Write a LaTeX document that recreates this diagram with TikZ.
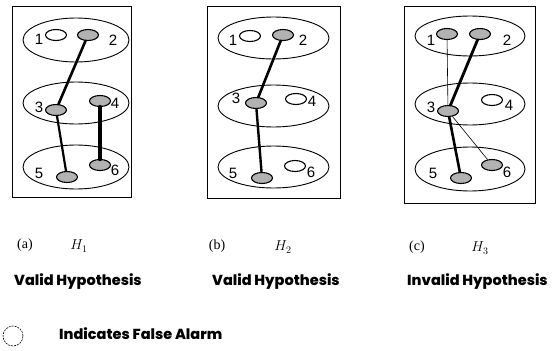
\documentclass[tikz,border=0pt]{standalone}
\usepackage{fontspec}
\setmainfont{Liberation Serif}
\newfontfamily\numfont{Liberation Sans}
\newfontfamily\capfont{Poppins}[BoldFont={Poppins ExtraBold}]
\usetikzlibrary{shapes.geometric}
\tikzset{
  frame/.style={draw,line width=0.8pt},
  zone/.style={draw,line width=0.9pt},
  plot/.style={draw,ellipse,line width=1.1pt,fill=white,minimum width=21pt,minimum height=11pt,inner sep=0pt},
  hit/.style={plot,fill=black!30},
  num/.style={font=\numfont\fontsize{15}{15}\selectfont,inner sep=0pt},
  tag/.style={font=\fontsize{14}{14}\selectfont,inner sep=0pt},
  verdict/.style={font=\capfont\bfseries\fontsize{14.5}{14.5}\selectfont,inner sep=0pt,anchor=west},
  trk/.style={line width=#1,line cap=round}
}
\begin{document}
\begin{tikzpicture}[x=1pt,y=-1pt]
\useasboundingbox (0,0) rectangle (552,351);
% (a) valid hypothesis H1
\draw[frame] (12,6) rectangle (131,197);
\draw[zone] (76,40) ellipse [x radius=53pt,y radius=22pt];
\draw[zone] (76,103) ellipse [x radius=53pt,y radius=21pt];
\draw[zone] (76,167) ellipse [x radius=53pt,y radius=22pt];
\node[plot] (a1) at (56,35) {};
\node[hit] (a2) at (88,35) {};
\node[hit] (a3) at (56,110) {};
\node[hit] (a4) at (100,101) {};
\node[hit] (a5) at (67,177) {};
\node[hit] (a6) at (100,165) {};
\node[num] (na1) at (39,39) {1};
\node[num] (na2) at (113,40) {2};
\node[num] (na3) at (39,107) {3};
\node[num] (na4) at (115,103) {4};
\node[num] (na5) at (39,173) {5};
\node[num] (na6) at (115,170) {6};
\draw[trk=2.6pt] (a2) -- (a3);
\draw[trk=2.2pt] (a3) -- (a5);
\draw[trk=4.5pt] (a4) -- (a6);
% (b) valid hypothesis H2
\draw[frame] (207,6) rectangle (340,198);
\draw[zone] (273.5,38) ellipse [x radius=55.5pt,y radius=21pt];
\draw[zone] (273.5,106) ellipse [x radius=55.5pt,y radius=21pt];
\draw[zone] (273.5,167) ellipse [x radius=55.5pt,y radius=21pt];
\node[plot] (b1) at (250,36) {};
\node[hit] (b2) at (283,35) {};
\node[hit] (b3) at (256,103) {};
\node[plot] (b4) at (296,99) {};
\node[hit] (b5) at (262,178) {};
\node[plot] (b6) at (295,166) {};
\node[num] (nb1) at (233,40) {1};
\node[num] (nb2) at (303,40) {2};
\node[num] (nb3) at (236,98) {3};
\node[num] (nb4) at (312,101) {4};
\node[num] (nb5) at (233,173) {5};
\node[num] (nb6) at (311,172) {6};
\draw[trk=2.6pt] (b2) -- (b3);
\draw[trk=2.4pt] (b3) -- (b5);
% (c) invalid hypothesis H3
\draw[frame] (404,6) rectangle (535,203);
\draw[zone] (470,36) ellipse [x radius=55pt,y radius=20pt];
\draw[zone] (470,104) ellipse [x radius=55pt,y radius=21pt];
\draw[zone] (470,169) ellipse [x radius=55pt,y radius=22pt];
\node[hit] (c1) at (447,34) {};
\node[hit] (c2) at (480,34) {};
\node[hit] (c3) at (448,111) {};
\node[plot] (c4) at (492,100) {};
\node[hit] (c5) at (461,178) {};
\node[hit] (c6) at (492,165) {};
\node[num] (nc1) at (431,40) {1};
\node[num] (nc2) at (507,40) {2};
\node[num] (nc3) at (431,107) {3};
\node[num] (nc4) at (509,105) {4};
\node[num] (nc5) at (433,173) {5};
\node[num] (nc6) at (507,172) {6};
\draw[trk=0.6pt] (c1) -- (c3);
\draw[trk=2.8pt] (c2) -- (c3);
\draw[trk=2.6pt] (c3) -- (c5);
\draw[trk=0.6pt] (c3) -- (c6);
% captions
\node[tag] (ta) at (25,245) {(a)};
\node[tag] (ha) at (79,246) {$H_1$};
\node[tag] (tb) at (217,246) {(b)};
\node[tag] (hb) at (283,247) {$H_2$};
\node[tag] (tc) at (417,247) {(c)};
\node[tag] (hc) at (480,248) {$H_3$};
\node[verdict] (va) at (14,282) {Valid Hypothesis};
\node[verdict] (vb) at (212,282) {Valid Hypothesis};
\node[verdict] (vc) at (407,282) {Invalid Hypothesis};
% legend
\draw[line width=0.6pt,dash pattern=on 2pt off 1pt] (13,336) circle [radius=10pt];
\node[verdict] (fa) at (59,334) {Indicates False Alarm};
\end{tikzpicture}
\end{document}
